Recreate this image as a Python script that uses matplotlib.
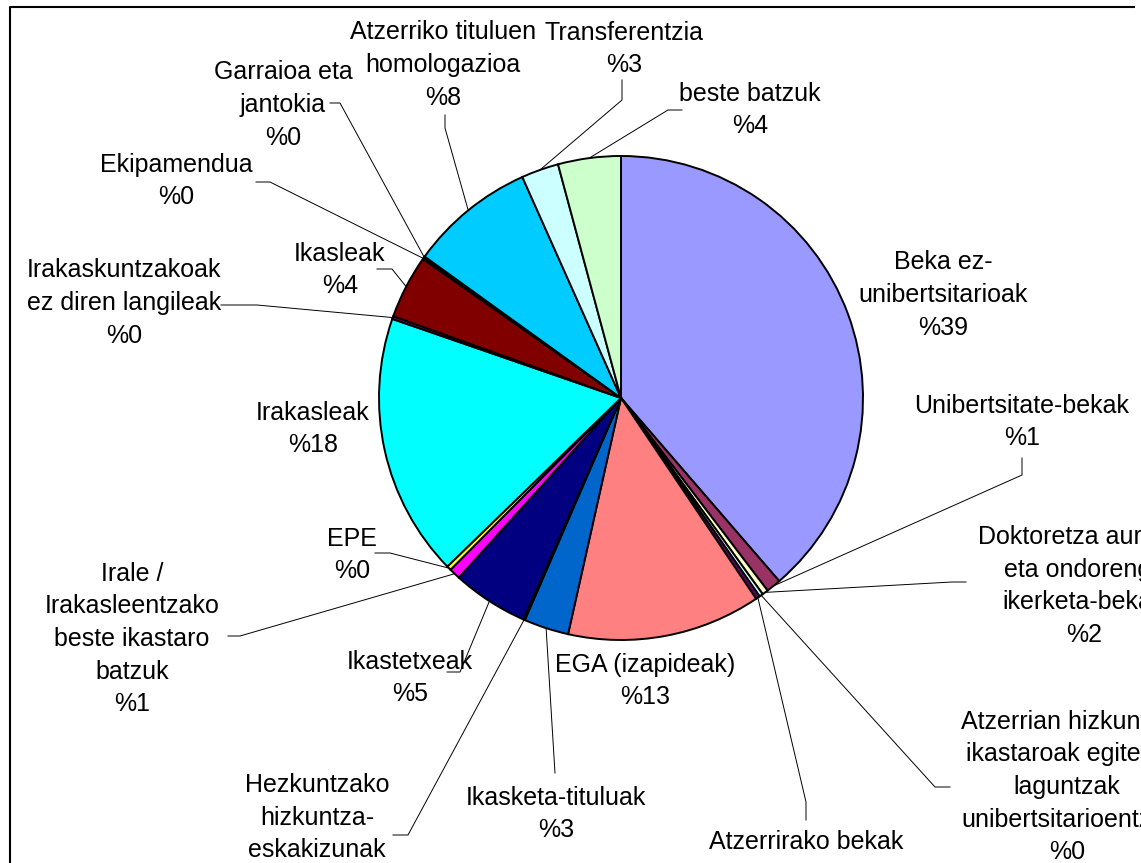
import matplotlib
matplotlib.use('Agg')
import matplotlib.pyplot as plt
import numpy as np

W, H = 1141, 863

# slices, clockwise from 12 o'clock
categories = ['Beka ez-\nunibertsitarioak', 'Unibertsitate-bekak',
              'Doktoretza aurreko\neta ondorengo\nikerketa-bekak',
              'Atzerrian hizkuntza\nikastaroak egiteko\nlaguntzak\nunibertsitarioentzat',
              'Atzerrirako bekak', 'EGA (izapideak)', 'Ikasketa-tituluak',
              'Hezkuntzako\nhizkuntza-\neskakizunak', 'Ikastetxeak',
              'Irale /\nIrakasleentzako\nbeste ikastaro\nbatzuk', 'EPE', 'Irakasleak',
              'Irakaskuntzakoak\nez diren langileak', 'Ikasleak', 'Ekipamendua',
              'Garraioa eta\njantokia', 'Atzerriko tituluen\nhomologazioa',
              'Transferentzia', 'beste batzuk']
values = [38.75, 0.99, 0.4, 0.25, 0.28, 12.97, 3.0, 0.1, 5.1, 0.75, 0.3,
          17.6, 0.19, 4.26, 0.1, 0.1, 8.4, 2.5, 4.2]
pct_text = ['%39', '%1', '%2', '%0', '%0', '%13', '%3', '%0', '%5', '%1', '%0',
            '%18', '%0', '%4', '%0', '%0', '%8', '%3', '%4']

colors = ['#9999FF', '#993366', '#FFFFCC', '#CCFFFF', '#660066', '#FF8080',
          '#0066CC', '#CCCCFF', '#000080', '#FF00FF', '#FFFF00', '#00FFFF',
          '#800080', '#800000', '#008080', '#0000FF', '#00CCFF', '#CCFFFF',
          '#CCFFCC']

# label centres (pixels from top-left) and leader line bends
label_pos = [(943, 293), (1022, 420), (1084, 584), (1067, 785), (806, 856),
             (645, 679), (556, 812), (317, 832), (410, 676), (132, 637),
             (352, 553), (313, 427), (124, 301), (340, 268), (176, 179),
             (283, 103), (443, 63), (624, 47), (750, 108)]
leaders = {1: [(1022, 475), (1022, 458)],
           2: [(952, 582), (966, 582)],
           3: [(935, 787), (950, 787)],
           4: [(806, 802), (806, 820)],
           6: [(554, 757), (555, 773)],
           7: [(408, 835), (393, 835)],
           8: [(460, 672), (447, 672)],
           9: [(240, 636), (228, 636)],
           10: [(390, 553), (375, 553)],
           12: [(257, 305), (221, 305)],
           13: [(392, 269), (377, 269)],
           14: [(270, 182), (256, 182)],
           15: [(340, 103), (330, 103)],
           16: [(445, 128), (445, 115)],
           17: [(622, 100), (622, 80)],
           18: [(668, 110), (682, 110)]}
line_gap = 32.7

cx, cy, r = 621, H - 398, 242

fig = plt.figure(figsize=(W / 100, H / 100), dpi=100)
ax = fig.add_axes([0, 0, 1, 1])

wedges, _ = ax.pie(values, colors=colors, startangle=90, counterclock=False,
                   center=(cx, cy), radius=r,
                   wedgeprops=dict(edgecolor='black', linewidth=1.4))

for i, lab in enumerate(categories):
    x, y = label_pos[i]
    lines = (lab + '\n' + pct_text[i]).split('\n')
    n = len(lines)
    for k, line in enumerate(lines):
        yb = y + (k - (n - 1) / 2) * line_gap + 9
        ax.text(x, H - yb, line, ha='center', va='baseline',
                fontsize=18, family='Liberation Sans')
    if i in leaders:
        w = wedges[i]
        a = np.deg2rad((w.theta1 + w.theta2) / 2)
        px = [cx + r * np.cos(a)] + [p[0] for p in leaders[i]]
        py = [cy + r * np.sin(a)] + [H - p[1] for p in leaders[i]]
        ax.plot(px, py, color='black', lw=0.7)

# chart area border (right and bottom sides fall outside the image)
ax.plot([9.5, 9.5, 1134], [-5, H - 7.5, H - 7.5], color='black', lw=1.5)

ax.set_xlim(0, W)
ax.set_ylim(0, H)
ax.set_aspect('equal')
ax.set_axis_off()

fig.savefig('out.png', dpi=100)
